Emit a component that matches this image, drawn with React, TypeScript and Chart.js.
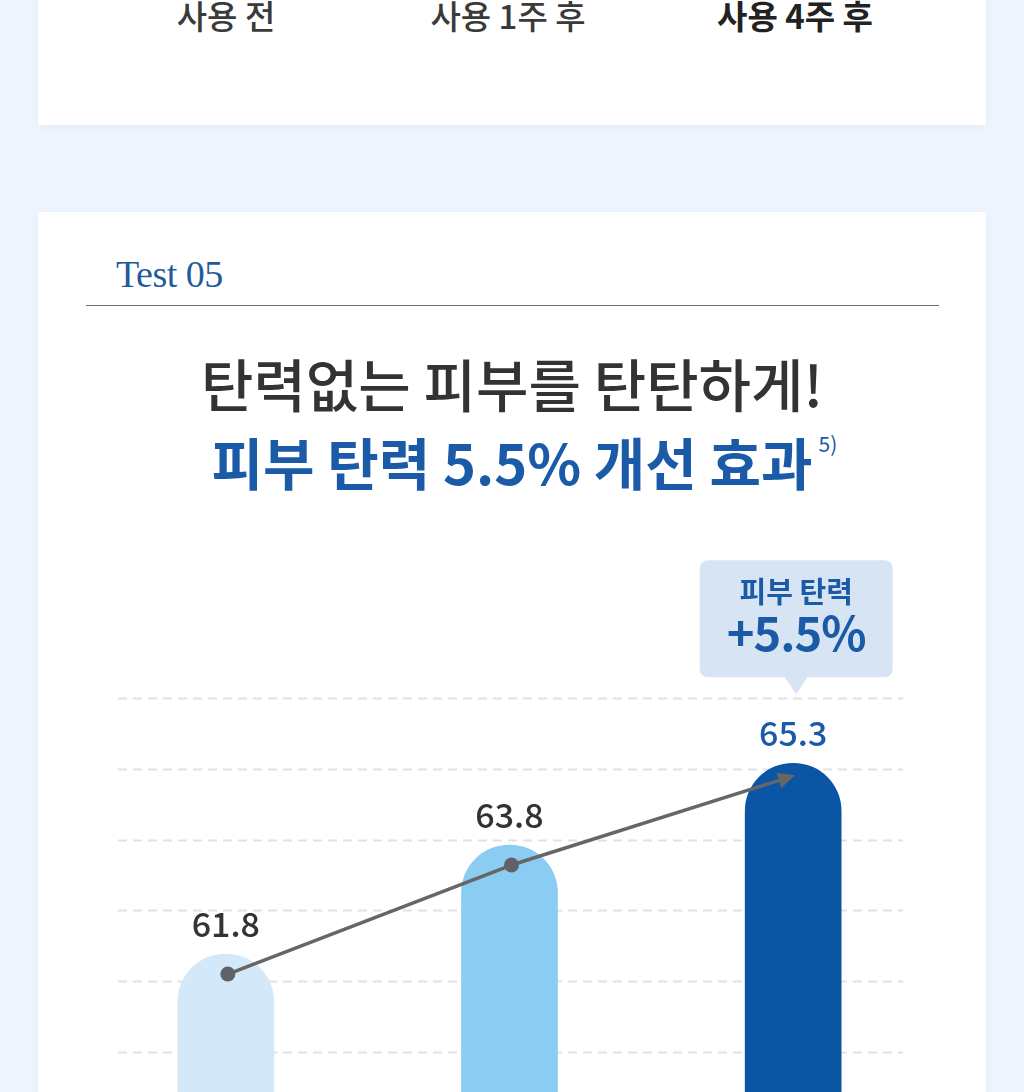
import React, { useEffect, useRef } from "react";
import { Chart, registerables } from "chart.js";

Chart.register(...registerables);

// ---- data ----
const categories = ["사용 전", "사용 1주 후", "사용 4주 후"];
const values = [61.8, 63.8, 65.3];
const valueLabels = ["61.8", "63.8", "65.3"];
const gridValues = [60, 61.3, 62.6, 63.9, 65.2, 66.5];
const calloutLines = ["피부 탄력", "+5.5%"];
const titleLine1 = "탄력없는 피부를 탄탄하게!";
const titleLine2 = "피부 탄력 5.5% 개선 효과";
const footnote = "5)";
const testLabel = "Test 05";
const yMin = 58.7;
const yMax = 67.8;

// ---- styles ----
const barColors = ["#d3e9f9", "#8bcdf2", "#0a55a4"];
const labelColors = ["#333333", "#333333", "#1a5aa6"];
const BLUE = "#1a5aa6";
const KR = "'Noto Sans CJK KR', 'Noto Sans', sans-serif";

const CANVAS_LEFT = 38;
const CANVAS_TOP = 540;
const CANVAS_W = 948;
const CANVAS_H = 600;

function roundRect(ctx: CanvasRenderingContext2D, x: number, y: number, w: number, h: number, r: number) {
  ctx.beginPath();
  ctx.moveTo(x + r, y);
  ctx.lineTo(x + w - r, y);
  ctx.quadraticCurveTo(x + w, y, x + w, y + r);
  ctx.lineTo(x + w, y + h - r);
  ctx.quadraticCurveTo(x + w, y + h, x + w - r, y + h);
  ctx.lineTo(x + r, y + h);
  ctx.quadraticCurveTo(x, y + h, x, y + h - r);
  ctx.lineTo(x, y + r);
  ctx.quadraticCurveTo(x, y, x + r, y);
  ctx.closePath();
}

const decorPlugin = {
  id: "decor",
  beforeDatasetsDraw(chart: any) {
    const { ctx, chartArea, scales } = chart;
    const y = scales.y;
    ctx.save();
    ctx.strokeStyle = "#e2e2e2";
    ctx.lineWidth = 2;
    ctx.setLineDash([9, 6]);
    const x0 = chartArea.left + 34;
    const x1 = chartArea.right - 32;
    gridValues.forEach((v) => {
      const py = Math.round(y.getPixelForValue(v)) + 0.5;
      ctx.beginPath();
      ctx.moveTo(x0, py);
      ctx.lineTo(x1, py);
      ctx.stroke();
    });
    ctx.restore();
  },
  afterDatasetsDraw(chart: any) {
    const { ctx, scales } = chart;
    const yS = scales.y;
    const meta = chart.getDatasetMeta(0);
    const pts = meta.data.map((bar: any, i: number) => ({
      x: bar.x,
      top: yS.getPixelForValue(values[i]),
    }));

    // value labels
    ctx.save();
    ctx.textAlign = "center";
    ctx.textBaseline = "alphabetic";
    ctx.font = `500 34px ${KR}`;
    pts.forEach((p: any, i: number) => {
      ctx.fillStyle = labelColors[i];
      ctx.fillText(valueLabels[i], p.x, p.top - 17);
    });
    ctx.restore();

    // trend line with arrow
    const last = pts.length - 1;
    const linePts = pts.map((p: any, i: number) => ({
      x: p.x + 2,
      y: p.top + (i === last ? 12 : 20),
    }));
    ctx.save();
    ctx.strokeStyle = "#666666";
    ctx.fillStyle = "#666666";
    ctx.lineWidth = 3.5;
    ctx.lineJoin = "round";
    const a = linePts[last - 1];
    const b = linePts[last];
    const ang = Math.atan2(b.y - a.y, b.x - a.x);
    const headLen = 17;
    const headW = 8;
    ctx.beginPath();
    ctx.moveTo(linePts[0].x, linePts[0].y);
    for (let i = 1; i < last; i++) ctx.lineTo(linePts[i].x, linePts[i].y);
    ctx.lineTo(b.x - Math.cos(ang) * headLen * 0.8, b.y - Math.sin(ang) * headLen * 0.8);
    ctx.stroke();
    ctx.beginPath();
    ctx.moveTo(b.x, b.y);
    ctx.lineTo(b.x - Math.cos(ang) * headLen - Math.sin(ang) * headW, b.y - Math.sin(ang) * headLen + Math.cos(ang) * headW);
    ctx.lineTo(b.x - Math.cos(ang) * headLen + Math.sin(ang) * headW, b.y - Math.sin(ang) * headLen - Math.cos(ang) * headW);
    ctx.closePath();
    ctx.fill();
    ctx.fillStyle = "#5f6266";
    for (let i = 0; i < last; i++) {
      ctx.beginPath();
      ctx.arc(linePts[i].x, linePts[i].y, 7.5, 0, Math.PI * 2);
      ctx.fill();
    }
    ctx.restore();

    // callout above last bar
    const c = pts[last];
    const cx = c.x + 3;
    const boxW = 193;
    const boxH = 117;
    const boxBottom = c.top - 86;
    const boxTop = boxBottom - boxH;
    ctx.save();
    ctx.fillStyle = "#d6e4f3";
    roundRect(ctx, cx - boxW / 2, boxTop, boxW, boxH, 9);
    ctx.fill();
    ctx.beginPath();
    ctx.moveTo(cx - 12, boxBottom - 1);
    ctx.lineTo(cx + 12, boxBottom - 1);
    ctx.lineTo(cx, boxBottom + 17);
    ctx.closePath();
    ctx.fill();
    ctx.fillStyle = BLUE;
    ctx.textAlign = "center";
    ctx.textBaseline = "alphabetic";
    ctx.font = `700 29px ${KR}`;
    ctx.fillText(calloutLines[0], cx, boxTop + 43);
    ctx.font = `700 47px ${KR}`;
    (ctx as any).letterSpacing = "-1px";
    ctx.fillText(calloutLines[1], cx, boxTop + 91);
    ctx.restore();
  },
};

function BarChart() {
  const ref = useRef<HTMLCanvasElement | null>(null);
  useEffect(() => {
    if (!ref.current) return;
    const chart = new Chart(ref.current, {
      type: "bar",
      data: {
        labels: categories,
        datasets: [
          {
            data: values,
            backgroundColor: barColors,
            barThickness: 96,
            borderRadius: 48,
            borderSkipped: "start",
          },
        ],
      },
      options: {
        animation: false,
        responsive: false,
        maintainAspectRatio: false,
        events: [],
        layout: { padding: { top: 87, bottom: 17, left: 46, right: 51 } },
        plugins: { legend: { display: false }, tooltip: { enabled: false } },
        scales: {
          x: { display: false },
          y: { display: false, min: yMin, max: yMax },
        },
      },
      plugins: [decorPlugin],
    } as any);
    return () => chart.destroy();
  }, []);
  return (
    <canvas
      ref={ref}
      width={CANVAS_W}
      height={CANVAS_H}
      style={{ position: "absolute", left: CANVAS_LEFT, top: CANVAS_TOP, width: CANVAS_W, height: CANVAS_H }}
    />
  );
}

export default function App() {
  const topCenters = [226, 508, 795];
  return (
    <div
      style={{
        position: "absolute",
        left: 0,
        top: 0,
        width: 1024,
        height: 1092,
        overflow: "hidden",
        background: "#eef5fd",
        fontFamily: KR,
      }}
    >
      {/* previous card */}
      <div
        style={{
          position: "absolute",
          left: 38,
          top: -40,
          width: 948,
          height: 165,
          background: "#ffffff",
          boxShadow: "0 2px 10px rgba(30,70,130,0.06)",
        }}
      />
      {categories.map((c, i) => (
        <div
          key={c}
          style={{
            position: "absolute",
            left: topCenters[i] - 150,
            width: 300,
            top: -1,
            textAlign: "center",
            fontSize: 33,
            lineHeight: "33px",
            fontWeight: i === 2 ? 700 : 500,
            color: i === 2 ? "#222" : "#3a3a3a",
            letterSpacing: "0px",
          }}
        >
          {c}
        </div>
      ))}

      {/* main card */}
      <div
        style={{
          position: "absolute",
          left: 38,
          top: 212,
          width: 948,
          height: 960,
          background: "#ffffff",
          boxShadow: "0 2px 10px rgba(30,70,130,0.06)",
        }}
      />
      <div
        style={{
          position: "absolute",
          left: 116,
          top: 252,
          fontFamily: "'Liberation Serif', 'DejaVu Serif', serif",
          fontSize: 38,
          lineHeight: "44px",
          color: "#1f5b9c",
          letterSpacing: "-0.5px",
        }}
      >
        {testLabel}
      </div>
      <div style={{ position: "absolute", left: 86, top: 305, width: 853, height: 1, background: "#6e6e6e" }} />

      <div
        style={{
          position: "absolute",
          left: 0,
          width: 1024,
          top: 354,
          textAlign: "center",
          fontSize: 57,
          lineHeight: "57px",
          fontWeight: 500,
          color: "#333333",
          letterSpacing: "0px",
          whiteSpace: "nowrap",
        }}
      >
        {titleLine1}
      </div>
      <div
        style={{
          position: "absolute",
          left: 0,
          width: 1024,
          top: 433,
          textAlign: "center",
          fontSize: 56,
          lineHeight: "56px",
          fontWeight: 700,
          color: BLUE,
          letterSpacing: "0px",
          whiteSpace: "nowrap",
        }}
      >
        <span style={{ position: "relative" }}>
          {titleLine2}
          <span
            style={{
              position: "absolute",
              left: "100%",
              top: 13,
              marginLeft: 6,
              fontSize: 21,
              lineHeight: "21px",
              fontWeight: 400,
              letterSpacing: 0,
            }}
          >
            {footnote}
          </span>
        </span>
      </div>

      <BarChart />
    </div>
  );
}
